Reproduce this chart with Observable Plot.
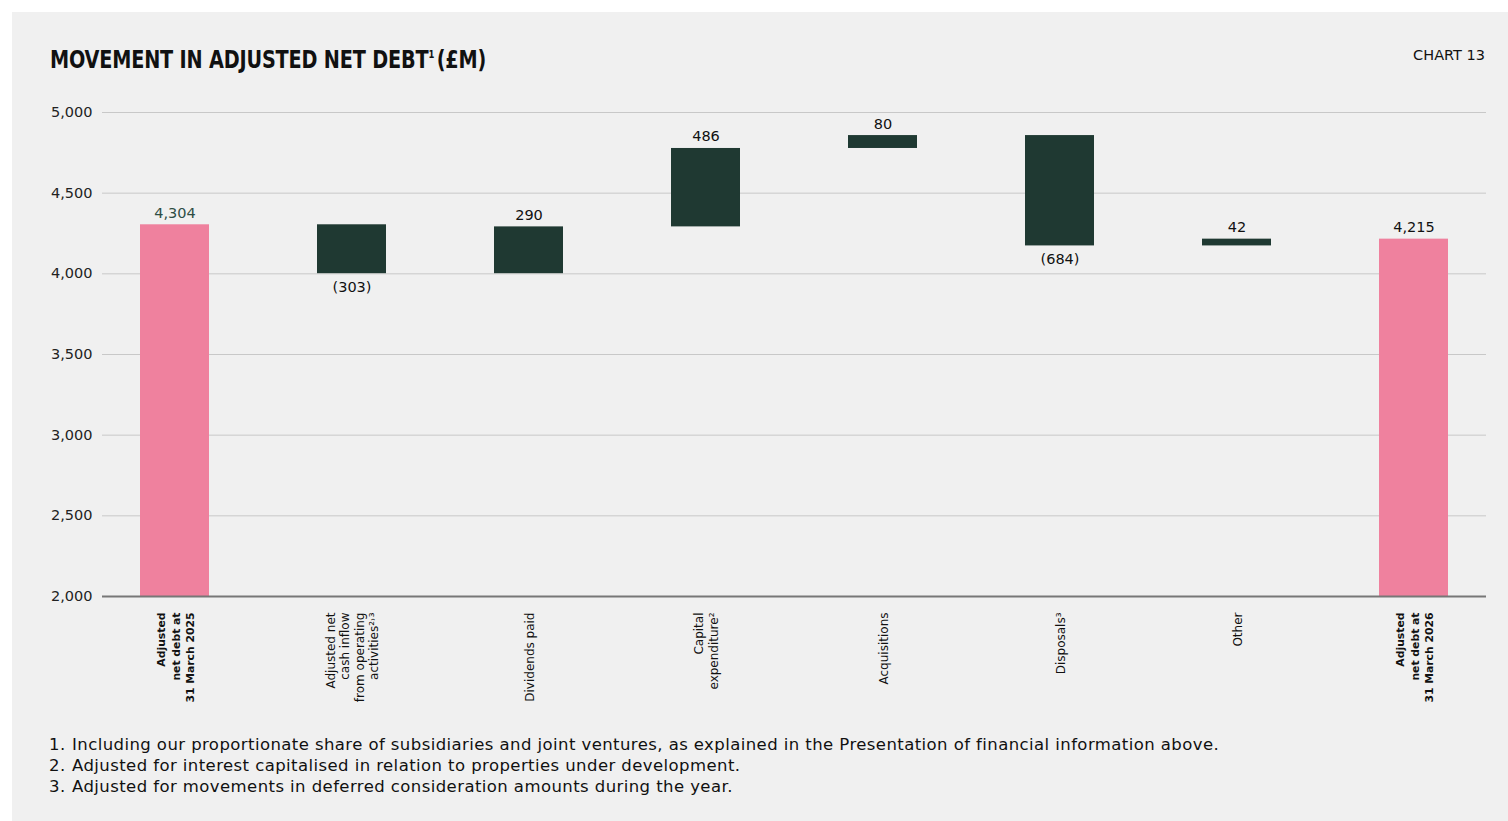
<!DOCTYPE html>
<html>
<head>
<meta charset="utf-8">
<script src="https://cdn.jsdelivr.net/npm/d3@7"></script>
<script src="https://cdn.jsdelivr.net/npm/@observablehq/plot@0.6"></script>
<style>
  html, body { margin: 0; padding: 0; background: #ffffff; }
  #wrap { position: relative; width: 1508px; height: 821px; background: #ffffff; overflow: hidden; }
  #panel { position: absolute; left: 12px; top: 12px; width: 1496px; height: 809px; background: #f0f0f0; }
  #title { position: absolute; left: 50px; top: 47px; font-family: "DejaVu Sans Condensed", "DejaVu Sans", sans-serif; font-weight: 700; font-size: 25px; line-height: 25px; color: #111; white-space: nowrap; letter-spacing: -0.2px; transform: scaleX(0.855); transform-origin: 0 0; }
  #title sup { font-size: 11px; vertical-align: 0; position: relative; top: -10px; margin-right: 3px; }
  #chartno { position: absolute; right: 23px; top: 48px; font-family: "DejaVu Sans", sans-serif; font-size: 14.5px; line-height: 14.5px; color: #111; }
  #chart { position: absolute; left: 0; top: 90px; }
  #notes { position: absolute; left: 49px; top: 734px; font-family: "DejaVu Sans", sans-serif; font-size: 16.5px; line-height: 21px; letter-spacing: 0.42px; color: #111; }
  #notes .row { display: flex; white-space: nowrap; }
  #notes .n { width: 23px; }
</style>
</head>
<body>
<div id="wrap">
  <div id="panel"></div>
  <div id="title">MOVEMENT IN ADJUSTED NET DEBT<sup>1</sup>(£M)</div>
  <div id="chartno">CHART 13</div>
  <div id="chart"></div>
  <div id="notes"></div>
</div>
<script>
// ---- data ----
const categories = [
  "Adjusted\nnet debt at\n31 March 2025",
  "Adjusted net\ncash inflow\nfrom operating\nactivities²˒³",
  "Dividends paid",
  "Capital\nexpenditure²",
  "Acquisitions",
  "Disposals³",
  "Other",
  "Adjusted\nnet debt at\n31 March 2026"
];
const kinds = ["total", "delta", "delta", "delta", "delta", "delta", "delta", "total"];
const values = [4304, -303, 290, 486, 80, -684, 42, 4215];
const valueLabels = ["4,304", "(303)", "290", "486", "80", "(684)", "42", "4,215"];
const labelColors = ["#2e4d44", "#111111", "#111111", "#111111", "#111111", "#111111", "#111111", "#111111"];
const yTicks = [2000, 2500, 3000, 3500, 4000, 4500, 5000];
const footnotes = [
  "Including our proportionate share of subsidiaries and joint ventures, as explained in the Presentation of financial information above.",
  "Adjusted for interest capitalised in relation to properties under development.",
  "Adjusted for movements in deferred consideration amounts during the year."
];

// ---- build waterfall table ----
const yMin = d3.min(yTicks), yMax = d3.max(yTicks);
let running = 0;
const rows = categories.map((c, i) => {
  let y1, y2;
  if (kinds[i] === "total") { y1 = yMin; y2 = values[i]; running = values[i]; }
  else { y1 = running; y2 = running + values[i]; running = y2; }
  const up = kinds[i] === "total" || values[i] >= 0;
  return { cat: c, kind: kinds[i], y1, y2, label: valueLabels[i], color: labelColors[i], up,
           anchor: up ? Math.max(y1, y2) : Math.min(y1, y2) };
});
const bold = new Set([categories[0], categories[categories.length - 1]]);

const PINK = "#ef819e", GREEN = "#1f3932", BG = "#f0f0f0";

const chart = Plot.plot({
  width: 1508,
  height: 626,
  marginLeft: 102,
  marginRight: 22,
  marginTop: 22,
  marginBottom: 120,
  style: { fontFamily: "DejaVu Sans, sans-serif", fontSize: "14.5px", color: "#222", background: "transparent", overflow: "visible" },
  x: { domain: categories, paddingInner: 0.61, paddingOuter: 0.21, axis: null },
  y: { domain: [yMin, yMax], axis: null },
  color: { type: "identity" },
  marks: [
    Plot.ruleY(yTicks.filter(t => t !== yMin), { stroke: "#c8c8c8", strokeWidth: 1 }),
    // knock-out background behind value labels
    Plot.tickY(rows.filter(d => d.up), { x: "cat", y: "anchor", stroke: BG, strokeWidth: 16, dy: -12 }),
    Plot.tickY(rows.filter(d => !d.up), { x: "cat", y: "anchor", stroke: BG, strokeWidth: 16, dy: 14 }),
    Plot.barY(rows, { x: "cat", y1: "y1", y2: "y2", fill: d => d.kind === "total" ? PINK : GREEN }),
    Plot.ruleY([yMin], { stroke: "#777", strokeWidth: 2 }),
    Plot.text(rows.filter(d => d.up), { x: "cat", y: "anchor", text: "label", fill: "color", lineAnchor: "bottom", dy: -7, fontSize: 14.5 }),
    Plot.text(rows.filter(d => !d.up), { x: "cat", y: "anchor", text: "label", fill: "color", lineAnchor: "top", dy: 8, fontSize: 14.5 }),
    Plot.axisY({ ticks: yTicks, tickSize: 0, tickPadding: 10, tickFormat: d3.format(","), fontSize: 14.5, fill: "#222" }),
    Plot.text(categories.filter(c => !bold.has(c)), { x: d => d, frameAnchor: "bottom", dy: 16, rotate: -90, textAnchor: "end", lineAnchor: "middle", lineHeight: 1.2, fontSize: 12, fill: "#111" }),
    Plot.text(categories.filter(c => bold.has(c)), { x: d => d, frameAnchor: "bottom", dy: 16, rotate: -90, textAnchor: "end", lineAnchor: "middle", lineHeight: 1.3, fontSize: 10.8, fontWeight: "bold", fill: "#111" })
  ]
});
document.getElementById("chart").appendChild(chart);

const notes = document.getElementById("notes");
footnotes.forEach((t, i) => {
  const row = document.createElement("div");
  row.className = "row";
  const n = document.createElement("span"); n.className = "n"; n.textContent = (i + 1) + ".";
  const s = document.createElement("span"); s.textContent = t;
  row.appendChild(n); row.appendChild(s);
  notes.appendChild(row);
});
</script>
</body>
</html>
